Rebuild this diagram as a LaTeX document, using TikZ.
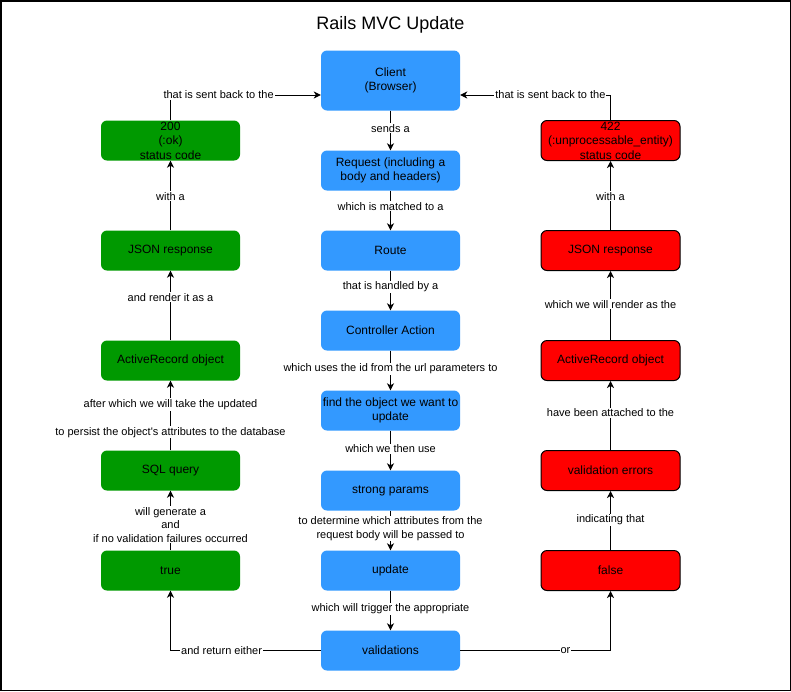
\documentclass[tikz,border=0pt]{standalone}
\usepackage{fontspec}
\setmainfont{Liberation Sans}
\usetikzlibrary{arrows.meta}
\definecolor{railsblue}{HTML}{3399FF}
\definecolor{okgreen}{HTML}{009900}
\definecolor{errred}{HTML}{FF0000}

\begin{document}
\begin{tikzpicture}[x=1pt,y=-1pt,
  box/.style={rounded corners=6pt, minimum width=139pt, minimum height=40pt,
    inner sep=0pt, align=center, font=\fontsize{12}{14.5}\selectfont, text=black},
  flowbox/.style={box, fill=railsblue},
  okbox/.style={box, fill=okgreen},
  errbox/.style={box, fill=errred, draw=black, line width=1pt},
  link/.style={draw=black, line width=1pt, -{Stealth[length=7pt,width=7pt,inset=2pt]}},
  lbl/.style={fill=white, inner sep=1pt, align=center,
    font=\fontsize{11}{13.5}\selectfont, text=black}]

% page area and frame
\useasboundingbox (0,0) rectangle (791,691);
\draw[line width=1.5pt] (0.75,0.75) rectangle (790.25,690.25);

% title
\node[font=\fontsize{18}{20}\selectfont] (title) at (390.5,25) {Rails MVC Update};

% request flow (centre column)
\node[flowbox, minimum height=60pt] (client) at (390.5,80.5) {Client\\(Browser)};
\node[flowbox] (request) at (390.5,170.5) {Request (including a\\body and headers)};
\node[flowbox] (route)   at (390.5,250.5) {Route};
\node[flowbox] (action)  at (390.5,330.5) {Controller Action};
\node[flowbox] (find)    at (390.5,410.5) {find the object we want to\\update};
\node[flowbox] (strong)  at (390.5,490.5) {strong params};
\node[flowbox] (update)  at (390.5,570.5) {update};
\node[flowbox] (valid)   at (390.5,650.5) {validations};

% success branch (left column)
\node[okbox] (ok)     at (170.5,140.5) {200\\(:ok)\\status code};
\node[okbox] (okjson) at (170.5,250.5) {JSON response};
\node[okbox] (okrec)  at (170.5,360.5) {ActiveRecord object};
\node[okbox] (sql)    at (170.5,470.5) {SQL query};
\node[okbox] (true)   at (170.5,570.5) {true};

% failure branch (right column)
\node[errbox] (unproc)  at (610.5,140.5) {422\\(:unprocessable\_entity)\\status code};
\node[errbox] (errjson) at (610.5,250.5) {JSON response};
\node[errbox] (errrec)  at (610.5,360.5) {ActiveRecord object};
\node[errbox] (errors)  at (610.5,470.5) {validation errors};
\node[errbox] (false)   at (610.5,570.5) {false};

% centre column connectors
\draw[link] (client)  -- node[lbl,pos=0.44]{sends a} (request);
\draw[link] (request) -- node[lbl,pos=0.39]{which is matched to a} (route);
\draw[link] (route)   -- node[lbl,pos=0.41]{that is handled by a} (action);
\draw[link] (action)  -- node[lbl,pos=0.46]{which uses the id from the url parameters to} (find);
\draw[link] (find)    -- node[lbl,pos=0.46]{which we then use} (strong);
\draw[link] (strong)  -- node[lbl,pos=0.45]{to determine which attributes from the\\request body will be passed to} (update);
\draw[link] (update)  -- node[lbl,pos=0.46]{which will trigger the appropriate} (valid);

% branching out of validations
\draw[link] (valid.west) -| node[lbl,pos=0.33]{and return either} (true.south);
\draw[link] (valid.east) -| node[lbl,pos=0.35]{or} (false.south);

% success path
\draw[link] (true) -- node[lbl,pos=0.43]{will generate a\\and\\if no validation failures occurred} (sql);
\draw[link] (sql) --
  node[lbl,pos=0.26]{to persist the object\textquotesingle s attributes to the database}
  node[lbl,pos=0.66]{after which we will take the updated} (okrec);
\draw[link] (okrec)  -- node[lbl,pos=0.62]{and render it as a} (okjson);
\draw[link] (okjson) -- node[lbl,pos=0.49]{with a} (ok);
\draw[link] (ok.north) |- node[lbl,pos=0.66]{that is sent back to the} ([yshift=-14.5pt]client.west);

% failure path
\draw[link] (false)   -- node[lbl,pos=0.51]{indicating that} (errors);
\draw[link] (errors)  -- node[lbl,pos=0.54]{have been attached to the} (errrec);
\draw[link] (errrec)  -- node[lbl,pos=0.52]{which we will render as the} (errjson);
\draw[link] (errjson) -- node[lbl,pos=0.49]{with a} (unproc);
\draw[link] (unproc.north) |- node[lbl,pos=0.70]{that is sent back to the} ([yshift=-14.5pt]client.east);

\end{tikzpicture}
\end{document}
